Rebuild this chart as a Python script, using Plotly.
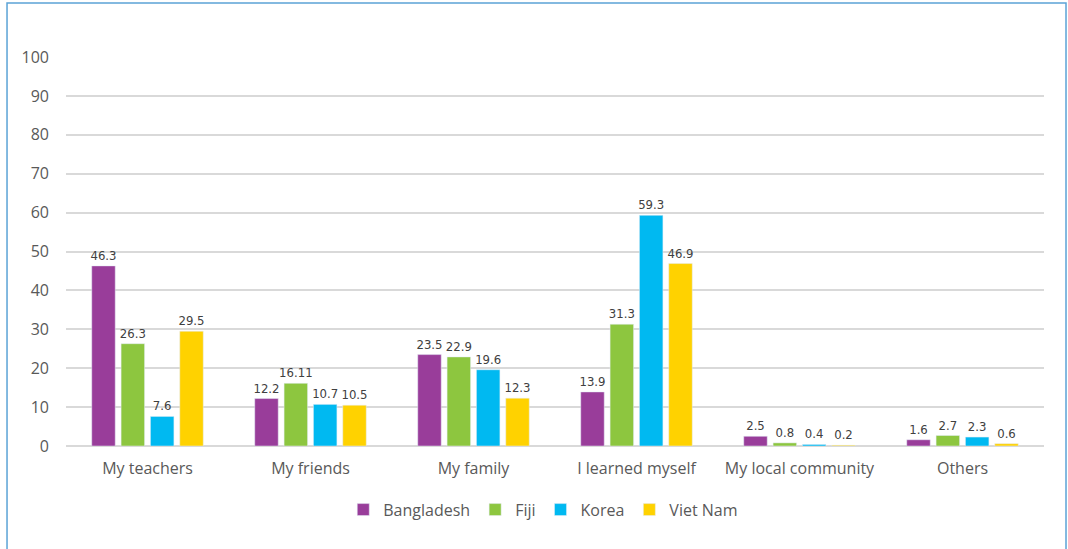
import plotly.graph_objects as go

categories = ['My teachers', 'My friends', 'My family', 'I learned myself',
              'My local community', 'Others']
bangladesh = [46.3, 12.2, 23.5, 13.9, 2.5, 1.6]
fiji = [26.3, 16.11, 22.9, 31.3, 0.8, 2.7]
korea = [7.6, 10.7, 19.6, 59.3, 0.4, 2.3]
viet_nam = [29.5, 10.5, 12.3, 46.9, 0.2, 0.6]

series = [
    ('Bangladesh', bangladesh, '#993D9A'),
    ('Fiji', fiji, '#8DC63F'),
    ('Korea', korea, '#00B9F1'),
    ('Viet Nam', viet_nam, '#FFD200'),
]

label_font = 'Liberation Sans Narrow, DejaVu Sans Condensed, Roboto Condensed, Roboto, sans-serif'

fig = go.Figure()
for name, values, color in series:
    fig.add_trace(go.Bar(
        x=categories,
        y=values,
        name=name,
        marker_color=color,
        text=[str(v) for v in values],
        textposition='outside',
        constraintext='none',
        textfont=dict(family=label_font, size=13, color='#404040'),
        cliponaxis=False,
    ))

fig.update_layout(
    width=1068,
    height=549,
    margin=dict(l=66, r=24, t=57, b=103, autoexpand=False),
    paper_bgcolor='white',
    plot_bgcolor='white',
    font=dict(family='Open Sans', size=16, color='#595959'),
    barmode='group',
    bargap=0.28,
    bargroupgap=0.2,
    showlegend=True,
    legend=dict(orientation='h', x=0.488, xanchor='center', y=-0.12,
                yanchor='top', font=dict(size=16, color='#595959'),
                traceorder='normal', itemwidth=30),
    xaxis=dict(showline=False, ticks='', tickfont=dict(size=16),
               ticklabelstandoff=11),
    yaxis=dict(range=[0, 100], dtick=10, showgrid=True, gridcolor='#d9d9d9',
               gridwidth=1.5, zeroline=True, zerolinecolor='#d9d9d9',
               zerolinewidth=1.5, ticks='', ticklabelstandoff=16,
               tickfont=dict(size=16)),
    shapes=[dict(type='rect', xref='paper', yref='paper',
                 x0=-0.0603, x1=1.0225, y0=-0.3, y1=1.1388,
                 line=dict(color='#5BA3D6', width=1.5), layer='below')],
)

# drop the default page margin so the figure sits at the window's corner
fig.write_html("out.html", config={'displayModeBar': False},
               post_script="document.body.style.margin = '0';")
